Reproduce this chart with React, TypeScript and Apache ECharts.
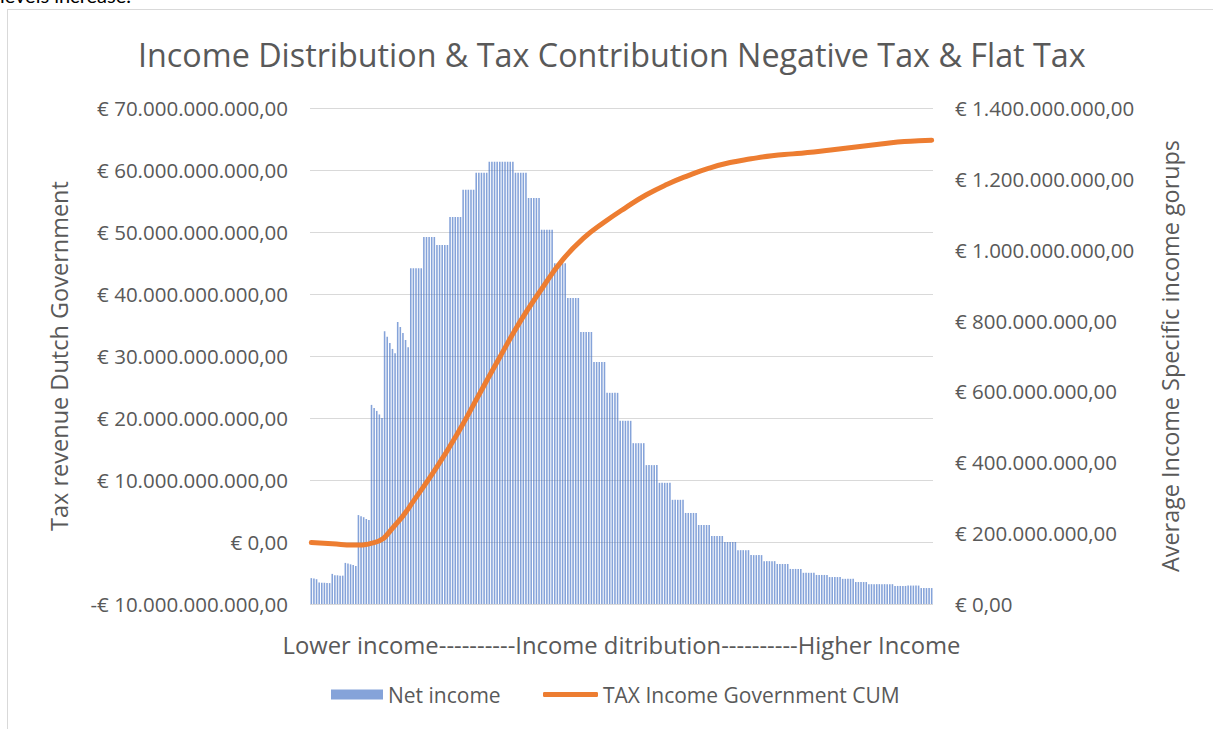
import React, { useEffect, useRef } from "react";
import * as echarts from "echarts";

// Net income per income group (right axis, euro). 238 groups, lowest to highest.
const netIncome: number[] = [
  73e6, 72e6, 70e6,
  61e6, 60e6, 60e6, 59e6, 59e6,
  85e6, 81e6, 81e6, 80e6, 80e6,
  116e6, 114e6, 112e6, 110e6, 107e6,
  251e6, 248e6, 245e6, 240e6, 237e6,
  562e6, 553e6, 545e6, 535e6, 525e6,
  770e6, 754e6, 737e6, 720e6, 708e6,
  796e6, 782e6, 765e6, 745e6, 725e6,
  948e6, 948e6, 948e6, 948e6, 948e6,
  1036e6, 1036e6, 1036e6, 1036e6, 1036e6,
  1013e6, 1013e6, 1013e6, 1013e6, 1013e6,
  1092e6, 1092e6, 1092e6, 1092e6, 1092e6,
  1169e6, 1169e6, 1169e6, 1169e6, 1169e6,
  1217e6, 1217e6, 1217e6, 1217e6, 1217e6,
  1248e6, 1248e6, 1248e6, 1248e6, 1248e6,
  1248e6, 1248e6, 1248e6, 1248e6, 1248e6,
  1217e6, 1217e6, 1217e6, 1217e6, 1217e6,
  1146e6, 1146e6, 1146e6, 1146e6, 1146e6,
  1056e6, 1056e6, 1056e6, 1056e6, 1056e6,
  962e6, 962e6, 962e6, 962e6, 962e6,
  864e6, 864e6, 864e6, 864e6, 864e6,
  768e6, 768e6, 768e6, 768e6, 768e6,
  683e6, 683e6, 683e6, 683e6, 683e6,
  596e6, 596e6, 596e6, 596e6, 596e6,
  517e6, 517e6, 517e6, 517e6, 517e6,
  454e6, 454e6, 454e6, 454e6, 454e6,
  392e6, 392e6, 392e6, 392e6, 392e6,
  342e6, 342e6, 342e6, 342e6, 342e6,
  294e6, 294e6, 294e6, 294e6, 294e6,
  257e6, 257e6, 257e6, 257e6, 257e6,
  223e6, 223e6, 223e6, 223e6, 223e6,
  192e6, 192e6, 192e6, 192e6, 192e6,
  175e6, 175e6, 175e6, 175e6, 175e6,
  152e6, 152e6, 152e6, 152e6, 152e6,
  138e6, 138e6, 138e6, 138e6, 138e6,
  121e6, 121e6, 121e6, 121e6, 121e6,
  113e6, 113e6, 113e6, 113e6, 113e6,
  99e6, 99e6, 99e6, 99e6, 99e6,
  88e6, 88e6, 88e6, 88e6, 88e6,
  82e6, 82e6, 82e6, 82e6, 82e6,
  76e6, 76e6, 76e6, 76e6, 76e6,
  71e6, 71e6, 71e6, 71e6, 71e6,
  62e6, 62e6, 62e6, 62e6, 62e6,
  56e6, 56e6, 56e6, 56e6, 56e6,
  56e6, 56e6, 56e6, 56e6, 56e6,
  51e6, 51e6, 51e6, 51e6, 51e6,
  52e6, 52e6, 52e6, 52e6, 52e6,
  45e6, 45e6, 45e6, 45e6, 45e6,
];

// Cumulative government tax income (left axis, euro), sampled every 8 groups.
const taxCumIndex: number[] = [
  0, 8, 16, 24, 32, 40, 48, 56, 64, 72, 80, 88, 96, 104, 112, 120, 128, 136,
  144, 152, 160, 168, 176, 184, 192, 200, 208, 216, 224, 232, 237,
];
const taxCumValue: number[] = [
  -0.1e9, -0.3e9, -0.5e9, -0.1e9, 2.7e9, 7.2e9, 12.1e9, 17.6e9, 23.7e9, 29.8e9,
  35.7e9, 40.8e9, 45.5e9, 49.0e9, 51.6e9, 53.9e9, 56.0e9, 57.7e9, 59.1e9, 60.3e9,
  61.2e9, 61.8e9, 62.3e9, 62.6e9, 62.9e9, 63.3e9, 63.7e9, 64.1e9, 64.5e9, 64.7e9,
  64.8e9,
];

const groups: string[] = netIncome.map((_, i) => String(i + 1));

const FONT = "'Open Sans', 'Noto Sans', sans-serif";
const GREY = "#595959";
const BLUE = "#4472C4";
const ORANGE = "#ED7D31";

// Euro amount in Dutch notation: € 1.400.000.000,00 / -€ 10.000.000.000,00
function euro(v: number): string {
  const neg = v < 0;
  const int = Math.round(Math.abs(v)).toString().replace(/\B(?=(\d{3})+(?!\d))/g, ".");
  return (neg ? "-" : "") + "€ " + int + ",00";
}

export default function App() {
  const ref = useRef<HTMLDivElement>(null);

  useEffect(() => {
    if (!ref.current) return;
    const chart = echarts.init(ref.current, undefined, { renderer: "svg" });
    const legendText = { fontFamily: FONT, fontSize: 21, color: GREY };
    chart.setOption({
      animation: false,
      textStyle: { fontFamily: FONT },
      title: {
        text: "Income Distribution & Tax Contribution Negative Tax & Flat Tax",
        left: 138,
        top: 38,
        padding: 0,
        textStyle: { fontFamily: FONT, fontSize: 32.3, fontWeight: "normal", color: GREY },
      },
      legend: [
        {
          left: 331,
          top: 684,
          padding: 0,
          itemWidth: 52,
          itemHeight: 10,
          textStyle: legendText,
          data: [{ name: "Net income", icon: "rect" }],
        },
        {
          left: 543,
          top: 684,
          padding: 0,
          itemWidth: 55,
          itemHeight: 5,
          textStyle: legendText,
          data: [{ name: "TAX Income Government CUM", icon: "roundRect" }],
        },
      ],
      grid: { left: 310, top: 108, width: 623, height: 496 },
      xAxis: {
        type: "category",
        data: groups,
        boundaryGap: true,
        axisLine: { show: false },
        axisTick: { show: false },
        axisLabel: { show: false },
        name: "Lower income----------Income ditribution----------Higher Income",
        nameLocation: "middle",
        nameGap: 29,
        nameTextStyle: { fontFamily: FONT, fontSize: 23.8, color: GREY },
      },
      yAxis: [
        {
          type: "value",
          min: -10e9,
          max: 70e9,
          interval: 10e9,
          axisLine: { show: false },
          axisTick: { show: false },
          splitLine: { lineStyle: { color: "#d9d9d9", width: 1 } },
          axisLabel: {
            formatter: (v: number) => euro(v),
            fontFamily: FONT,
            fontSize: 20.5,
            color: GREY,
            margin: 22,
          },
          name: "Tax revenue Dutch Government",
          nameLocation: "middle",
          nameGap: 239,
          nameRotate: 90,
          nameTextStyle: { fontFamily: FONT, fontSize: 23.5, color: GREY },
        },
        {
          type: "value",
          min: 0,
          max: 1.4e9,
          interval: 200e6,
          axisLine: { show: false },
          axisTick: { show: false },
          splitLine: { show: false },
          axisLabel: {
            formatter: (v: number) => euro(v),
            fontFamily: FONT,
            fontSize: 20.5,
            color: GREY,
            margin: 22,
          },
          name: "Average Income Specific income gorups",
          nameLocation: "middle",
          nameGap: 225,
          nameRotate: 90,
          nameTextStyle: { fontFamily: FONT, fontSize: 23.4, color: GREY },
        },
      ],
      series: [
        {
          name: "Net income",
          type: "bar",
          yAxisIndex: 1,
          data: netIncome,
          barWidth: "60%",
          itemStyle: { color: BLUE, opacity: 0.65 },
        },
        {
          name: "TAX Income Government CUM",
          type: "line",
          yAxisIndex: 0,
          data: taxCumIndex.map((idx, k) => [idx, taxCumValue[k]]),
          smooth: 0.5,
          showSymbol: false,
          symbol: "none",
          lineStyle: { color: ORANGE, width: 5, cap: "round" },
          itemStyle: { color: ORANGE },
        },
      ],
    });
    return () => chart.dispose();
  }, []);

  return (
    <div
      style={{
        position: "fixed",
        left: 0,
        top: 0,
        width: 1213,
        height: 729,
        overflow: "hidden",
        background: "#fff",
      }}
    >
      <div
        style={{
          position: "absolute",
          left: 0,
          top: -17,
          fontFamily: "Lato, sans-serif",
          fontSize: 20,
          color: "#000",
        }}
      >
        levels increase.
      </div>
      <div
        style={{
          position: "absolute",
          left: 7,
          top: 9,
          width: 1215,
          height: 730,
          border: "1px solid #d9d9d9",
          boxSizing: "border-box",
        }}
      />
      <div ref={ref} style={{ position: "absolute", left: 0, top: 0, width: 1213, height: 729 }} />
    </div>
  );
}
